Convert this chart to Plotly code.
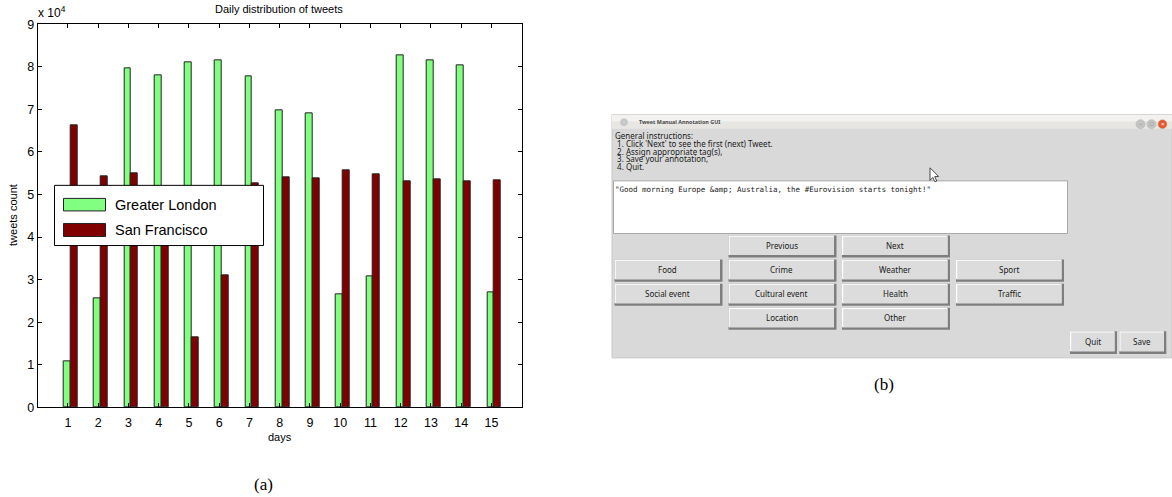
import plotly.graph_objects as go

# ---------------- data: daily tweet counts ----------------
days = list(range(1, 16))
greater_london = [10900, 25600, 79600, 78100, 81100, 81500, 77700, 69800,
                  69100, 26600, 30800, 82600, 81600, 80400, 27000]
san_francisco = [66200, 54200, 55000, 49000, 16500, 31100, 52700, 54000,
                 53900, 55700, 54800, 53200, 53600, 53000, 53300]
y_tick_vals = [0, 10000, 20000, 30000, 40000, 50000, 60000, 70000, 80000, 90000]
y_tick_text = ["0", "1", "2", "3", "4", "5", "6", "7", "8", "9"]
series_names = ["Greater London", "San Francisco"]

# ---------------- annotation tool window contents ----------------
window_title = "Tweet Manual Annotation GUI"
instructions = [
    "General instructions:",
    " 1. Click 'Next' to see the first (next) Tweet.",
    " 2. Assign appropriate tag(s),",
    " 3. Save your annotation,",
    " 4. Quit.",
]
tweet_text = '"Good morning Europe &amp;amp; Australia, the #Eurovision starts tonight!"'
# button grid: (row, column, label)
grid_buttons = [
    (0, 1, "Previous"), (0, 2, "Next"),
    (1, 0, "Food"), (1, 1, "Crime"), (1, 2, "Weather"), (1, 3, "Sport"),
    (2, 0, "Social event"), (2, 1, "Cultural event"), (2, 2, "Health"), (2, 3, "Traffic"),
    (3, 1, "Location"), (3, 2, "Other"),
]
action_buttons = ["Quit", "Save"]

# ---------------- page geometry helpers (pixels -> paper) ----------------
W, H = 1172, 497
# vertical band of the page occupied by the figure
TOP_PX, SPAN_PX = 7.7, 481.5


def px(x):
    return x / W


def py(y):
    return 1 - (y - TOP_PX) / SPAN_PX


GREEN = "#80FF80"
DARKRED = "#800000"
SANS = "Liberation Sans, Arial, sans-serif"
SERIF = "Liberation Serif, Times New Roman, serif"
GUI_FONT = "Noto Sans, DejaVu Sans, sans-serif"
MONO = "DejaVu Sans Mono, Liberation Mono, monospace"

fig = go.Figure()

fig.add_trace(go.Bar(
    x=days, y=greater_london, name=series_names[0],
    width=0.23, offset=-0.14,
    marker=dict(color=GREEN, line=dict(color="#222222", width=1)),
    showlegend=False,
))
fig.add_trace(go.Bar(
    x=days, y=san_francisco, name=series_names[1],
    width=0.23, offset=0.09,
    marker=dict(color=DARKRED, line=dict(color="#222222", width=1)),
    showlegend=False,
))

shapes = []
annotations = []


def rect(x0, y0, x1, y1, fill, line_color=None, line_width=0, layer="above"):
    shapes.append(dict(
        type="rect", xref="paper", yref="paper",
        x0=px(x0), x1=px(x1), y0=py(y1), y1=py(y0),
        fillcolor=fill,
        line=dict(color=line_color or fill, width=line_width),
        layer=layer,
    ))


def text(x, y, s, size, family=SANS, color="#000000", xanchor="center",
         yanchor="middle", textangle=0):
    annotations.append(dict(
        x=px(x), y=py(y), xref="paper", yref="paper", text=s,
        showarrow=False, xanchor=xanchor, yanchor=yanchor,
        font=dict(size=size, family=family, color=color),
        textangle=textangle, borderpad=0,
    ))


# ---------------- chart (a) legend ----------------
rect(54.5, 185.5, 263.5, 245.5, "#FFFFFF", "#000000", 1)
rect(63.5, 198.5, 105.5, 211, GREEN, "#222222", 1)
rect(63.5, 223.5, 105.5, 236.5, DARKRED, "#222222", 1)
text(114, 205, series_names[0], 14.5, "Liberation Sans Narrow, " + SANS, xanchor="left")
text(114, 230, series_names[1], 14.5, "Liberation Sans Narrow, " + SANS, xanchor="left")

# chart (a) texts
text(278.5, 10, "Daily distribution of tweets", 11)
text(37, 13, "x 10<sup>4</sup>", 12, xanchor="left")
text(13, 215, "tweets count", 11, textangle=-90)
text(279.5, 436.5, "days", 11)
text(263, 484, "(a)", 17, SERIF)

# ---------------- panel (b): annotation tool window ----------------
BG = "#D9D9D9"
FACE = "#DCDCDC"
# window body + title bar
rect(612, 115, 1172, 357.5, BG, "#C8C8C8", 1)
rect(612, 115, 1172, 122, "#F3F2F0")
rect(612, 122, 1172, 129, "#E7E6E3")
shapes.append(dict(type="circle", xref="paper", yref="paper",
                   x0=px(620.5), x1=px(627.5), y0=py(126), y1=py(119),
                   fillcolor="#C9C9C9", line=dict(color="#B5B5B5", width=0.5)))
text(638, 122.5, "<b>" + window_title + "</b>", 5.4, GUI_FONT, "#4A4A4A", xanchor="left")
for cx, col, sym in [(1140.5, "#C4C4C4", "–"), (1151.5, "#C4C4C4", "□"), (1162.5, "#E8582C", "×")]:
    shapes.append(dict(type="circle", xref="paper", yref="paper",
                       x0=px(cx - 4.5), x1=px(cx + 4.5), y0=py(129), y1=py(120),
                       fillcolor=col, line=dict(color="#AFAFAF", width=0.5)))
    text(cx, 124.5, sym, 6, SANS, "#FFFFFF" if sym == "×" else "#8A8A8A")

# instructions
for i, line in enumerate(instructions):
    shown = "&nbsp;" + line[1:] if line.startswith(" ") else line
    text(613.5, 135.5 + i * 7.9, shown, 8, GUI_FONT, "#1A1A1A", xanchor="left")

# tweet text box
rect(613.5, 181, 1067.5, 233.5, "#FFFFFF", "#A8A8A8", 1)
text(614, 189.5, tweet_text, 7.5, MONO, "#1A1A1A", xanchor="left")

# mouse pointer
pts = [(930, 168), (930, 180.5), (932.8, 177.6), (935, 182), (936.8, 181.2),
       (934.7, 176.8), (938.6, 176.6)]
path = "M " + " L ".join(f"{px(a):.5f},{py(b):.5f}" for a, b in pts) + " Z"
shapes.append(dict(type="path", xref="paper", yref="paper", path=path,
                   fillcolor="#FFFFFF", line=dict(color="#222222", width=0.8)))

col_left = [614.5, 728.5, 842, 956]
row_top = [235.5, 259.5, 283.5, 307.5]
BW, BH = 108, 22


def button(x0, y0, w, h, label):
    x1, y1 = x0 + w, y0 + h
    rect(x0, y0, x1, y1, "#7E7E7E")           # shadow (bottom/right)
    rect(x0, y0, x1 - 2.5, y1 - 2.5, "#FFFFFF")  # highlight (top/left)
    rect(x0 + 1.2, y0 + 1.2, x1 - 2.5, y1 - 2.5, FACE)
    text((x0 + x1) / 2 - 1, (y0 + y1) / 2 - 1, label, 8, GUI_FONT, "#1A1A1A")


for r, c, label in grid_buttons:
    button(col_left[c], row_top[r], BW, BH, label)

for i, label in enumerate(action_buttons):
    button(1070 + i * 49.3, 331, 47, 22.5, label)

text(884, 384, "(b)", 17, SERIF)

fig.update_layout(
    width=W, height=H,
    margin=dict(l=0, r=0, t=0, b=0),
    paper_bgcolor="#FFFFFF", plot_bgcolor="#FFFFFF",
    barmode="overlay",
    bargap=0,
    xaxis=dict(
        domain=[px(37.7), px(521.7)],
        range=[0, 16], tickvals=days, ticktext=[str(d) for d in days],
        showline=True, linecolor="#000000", linewidth=1, mirror="ticks",
        ticks="inside", ticklen=4, tickcolor="#000000",
        showgrid=False, zeroline=False, ticklabelstandoff=4,
        tickfont=dict(size=12.5, family=SANS, color="#000000"),
    ),
    yaxis=dict(
        domain=[py(406.7), py(25)],
        range=[0, 90000], tickvals=y_tick_vals, ticktext=y_tick_text,
        showline=True, linecolor="#000000", linewidth=1, mirror="ticks",
        ticks="inside", ticklen=4, tickcolor="#000000",
        showgrid=False, zeroline=False,
        tickfont=dict(size=12.5, family=SANS, color="#000000"),
    ),
    shapes=shapes,
    annotations=annotations,
)

# page without body margin so the figure fills the window exactly
fig.write_html(
    "out.html",
    post_script="document.body.style.margin='0';document.body.style.overflow='hidden';",
)
